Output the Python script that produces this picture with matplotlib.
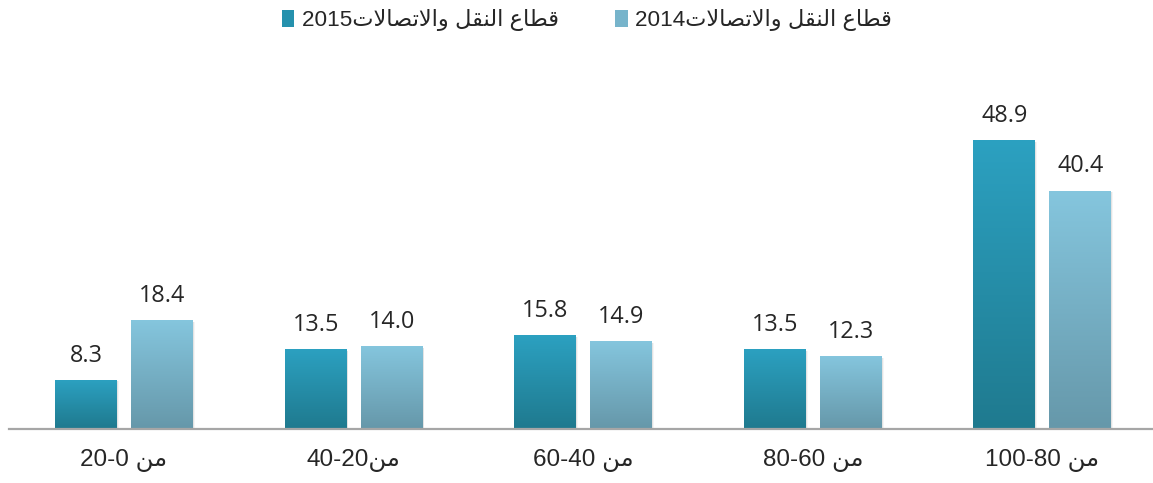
import matplotlib
matplotlib.use("Agg")
import matplotlib.pyplot as plt
import numpy as np
from matplotlib.patches import Patch, Rectangle
from matplotlib.colors import LinearSegmentedColormap

# ---------------- data ----------------
categories = ["من 20-0", "من40-20", "من 60-40", "من 80-60", "من 100-80"]
series_names = ["قطاع النقل والاتصالات2015", "قطاع النقل والاتصالات2014"]
values_2015 = [8.3, 13.5, 15.8, 13.5, 48.9]
values_2014 = [18.4, 14.0, 14.9, 12.3, 40.4]

# ---------------- minimal Arabic shaping + bidi ----------------
FORMS = {
    'ا': (0xFE8D, 0xFE8E, None, None),
    'ت': (0xFE95, 0xFE96, 0xFE97, 0xFE98),
    'ص': (0xFEB9, 0xFEBA, 0xFEBB, 0xFEBC),
    'ط': (0xFEC1, 0xFEC2, 0xFEC3, 0xFEC4),
    'ع': (0xFEC9, 0xFECA, 0xFECB, 0xFECC),
    'ق': (0xFED5, 0xFED6, 0xFED7, 0xFED8),
    'ل': (0xFEDD, 0xFEDE, 0xFEDF, 0xFEE0),
    'م': (0xFEE1, 0xFEE2, 0xFEE3, 0xFEE4),
    'ن': (0xFEE5, 0xFEE6, 0xFEE7, 0xFEE8),
    'و': (0xFEED, 0xFEEE, None, None),
}


def shape(s):
    out = []
    i, n = 0, len(s)
    while i < n:
        c = s[i]
        if c not in FORMS:
            out.append(c)
            i += 1
            continue
        prev = s[i - 1] if i > 0 else ''
        joins_prev = prev in FORMS and FORMS[prev][2] is not None
        if c == 'ل' and i + 1 < n and s[i + 1] == 'ا':
            out.append('\uFEFC' if joins_prev else '\uFEFB')
            i += 2
            continue
        nxt = s[i + 1] if i + 1 < n else ''
        joins_next = FORMS[c][2] is not None and nxt in FORMS
        iso, fin, ini, med = FORMS[c]
        if joins_prev and joins_next:
            g = med
        elif joins_prev:
            g = fin
        elif joins_next:
            g = ini
        else:
            g = iso
        out.append(chr(g))
        i += 1
    return ''.join(out)


def visual(s):
    s = shape(s)
    ltr = set("0123456789-.")
    runs = []
    for ch in s:
        is_ltr = ch in ltr
        if runs and runs[-1][0] == is_ltr:
            runs[-1][1].append(ch)
        else:
            runs.append([is_ltr, [ch]])
    parts = []
    for is_ltr, chars in reversed(runs):
        parts.append(''.join(chars) if is_ltr else ''.join(reversed(chars)))
    return ''.join(parts)


# ---------------- figure ----------------
W, H = 1153, 483
fig = plt.figure(figsize=(W / 100, H / 100), dpi=100)
base_px = 428.5
ymax = 60
px_per_unit = 5.89
top_px = base_px - ymax * px_per_unit
left_px, width_px = 9.2, 1148
ax = fig.add_axes([left_px / W, (H - base_px) / H, width_px / W, (base_px - top_px) / H])
ax.set_xlim(-0.5, len(categories) - 0.5)
ax.set_ylim(0, ymax)

FONT = ['Liberation Sans', 'DejaVu Sans']
TXT = '#262626'

x = np.arange(len(categories))
bw = 0.27
off = 0.1655

cmap15 = LinearSegmentedColormap.from_list('c15', ['#1F7A8F', '#2CA1C1'])
cmap14 = LinearSegmentedColormap.from_list('c14', ['#6698AA', '#85C6DE'])
grad = np.linspace(0, 1, 256).reshape(-1, 1)

for vals, dx, cmap in ((values_2015, -off, cmap15), (values_2014, off, cmap14)):
    bars = ax.bar(x + dx, vals, width=bw, color='none', edgecolor='none', zorder=3)
    for b in bars:
        bx, by = b.get_x(), b.get_y()
        bwid, bh = b.get_width(), b.get_height()
        # subtle shadow
        for k, a in ((0.004, 0.07), (0.008, 0.04)):
            sh = Rectangle((bx + k, by), bwid, bh - 0.3, facecolor='#000000',
                           alpha=a, edgecolor='none', zorder=2)
            ax.add_patch(sh)
        im = ax.imshow(grad, extent=(bx, bx + bwid, by, by + bh), origin='lower',
                       cmap=cmap, aspect='auto', zorder=3, interpolation='bilinear')
        im.set_clip_path(b)
    for xi, v in zip(x + dx, vals):
        ax.annotate(f"{v:.1f}", (xi, v), xytext=(0, 13), textcoords='offset points',
                    ha='center', va='baseline', fontsize=16.8, color=TXT,
                    family=['Open Sans', 'DejaVu Sans'])

ax.set_xticks(x)
ax.set_xticklabels([visual(c) for c in categories], fontsize=17.5, color=TXT, family=FONT)
ax.tick_params(axis='x', length=0, pad=15)
ax.set_yticks([])
for s in ('top', 'right', 'left'):
    ax.spines[s].set_visible(False)
ax.spines['bottom'].set_color('#A6A6A6')
ax.spines['bottom'].set_linewidth(1.6)
ax.spines['bottom'].set_zorder(4)

handles = [Patch(facecolor='#2591AD', edgecolor='none'),
           Patch(facecolor='#77B4CB', edgecolor='none')]
leg = fig.legend(handles, [visual(n) for n in series_names], ncol=2,
                 loc='center', bbox_to_anchor=(587 / W, 1 - 20 / H),
                 frameon=False, prop={'family': FONT, 'size': 16.2},
                 handlelength=0.55, handleheight=0.8, handletextpad=0.35,
                 columnspacing=2.5)
for t in leg.get_texts():
    t.set_color(TXT)

fig.savefig('out.png', dpi=100)
